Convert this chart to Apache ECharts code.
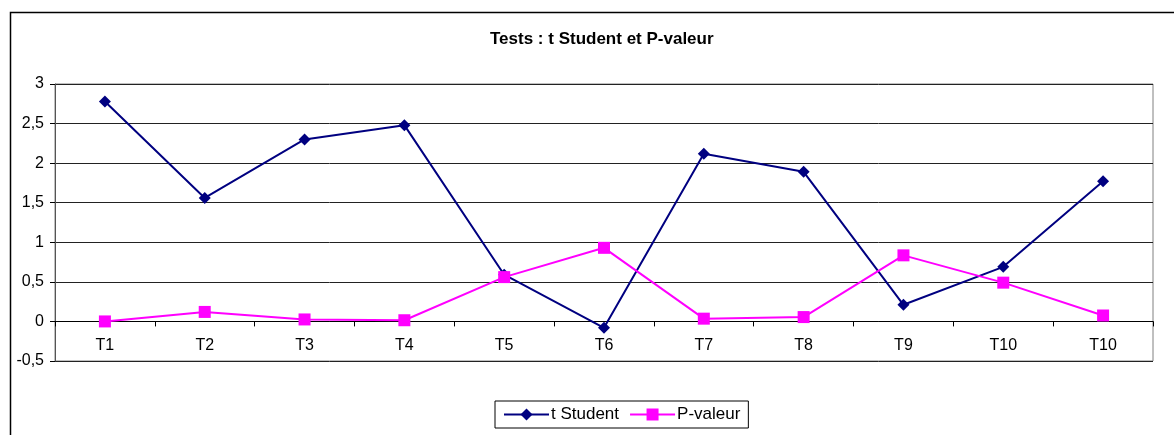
<!DOCTYPE html>
<html>
<head>
<meta charset="utf-8">
<script src="https://cdn.jsdelivr.net/npm/echarts@6/dist/echarts.min.js"></script>
<style>
  html, body { margin: 0; padding: 0; background: #fff; }
  #main { width: 1174px; height: 435px; }
</style>
</head>
<body>
<div id="main"></div>
<script>
var categories = ["T1", "T2", "T3", "T4", "T5", "T6", "T7", "T8", "T9", "T10", "T10"];
var tStudent = [2.78, 1.56, 2.30, 2.48, 0.59, -0.08, 2.12, 1.89, 0.21, 0.69, 1.77];
var pValeur = [0.0, 0.12, 0.025, 0.015, 0.56, 0.93, 0.035, 0.055, 0.835, 0.49, 0.075];
var yTicks = { min: -0.5, max: 3, interval: 0.5 };

var chart = echarts.init(document.getElementById("main"));
var font = "Liberation Sans, Arial, sans-serif";

// the category axis sits on y = 0, one step above the bottom of the plot
var plotHeight = 435 - 84 - 74;
var zeroOffset = plotHeight * (0 - yTicks.min) / (yTicks.max - yTicks.min);

chart.setOption({
  backgroundColor: "#fff",
  animation: false,
  graphic: [{
    type: "rect",
    shape: { x: 10.5, y: 12.5, width: 1300, height: 600 },
    style: { fill: null, stroke: "#000", lineWidth: 1.5 },
    silent: true
  }],
  title: {
    text: "Tests : t Student et P-valeur",
    left: 485,
    top: 26,
    textStyle: { fontFamily: font, fontSize: 17, fontWeight: "bold", color: "#000" }
  },
  legend: {
    left: 495,
    top: 401,
    padding: [5, 8, 5, 8],
    borderColor: "#000",
    borderWidth: 1,
    itemWidth: 45,
    itemHeight: 15,
    itemGap: 10,
    textStyle: { fontFamily: font, fontSize: 17, color: "#000", padding: [0, 0, 0, -3] },
    data: ["t Student", "P-valeur"]
  },
  grid: {
    left: 55,
    right: 21,
    top: 84,
    bottom: 74,
    show: true,
    borderColor: "#808080",
    borderWidth: 1
  },
  xAxis: {
    type: "category",
    data: categories,
    boundaryGap: true,
    offset: -zeroOffset,
    axisLine: { onZero: false, lineStyle: { color: "#000", width: 1 } },
    axisTick: { show: true, length: 5, inside: false, lineStyle: { color: "#000" } },
    axisLabel: { fontFamily: font, fontSize: 16, color: "#000", margin: 16 },
    splitLine: { show: false }
  },
  yAxis: {
    type: "value",
    min: yTicks.min,
    max: yTicks.max,
    interval: yTicks.interval,
    axisLine: { show: true, lineStyle: { color: "#555", width: 1 } },
    axisTick: { show: true, length: 5, lineStyle: { color: "#000" } },
    axisLabel: {
      fontFamily: font, fontSize: 16, color: "#000", margin: 11,
      formatter: function (v) { return String(v).replace(".", ","); }
    },
    splitLine: { show: true, lineStyle: { color: "#222", width: 1 } }
  },
  series: [
    {
      name: "t Student",
      type: "line",
      data: tStudent,
      symbol: "diamond",
      symbolSize: 12,
      color: "#000080",
      lineStyle: { color: "#000080", width: 2 },
      itemStyle: { color: "#000080" }
    },
    {
      name: "P-valeur",
      type: "line",
      data: pValeur,
      symbol: "rect",
      symbolSize: 12,
      color: "#ff00ff",
      lineStyle: { color: "#ff00ff", width: 2 },
      itemStyle: { color: "#ff00ff" }
    }
  ]
});
</script>
</body>
</html>
